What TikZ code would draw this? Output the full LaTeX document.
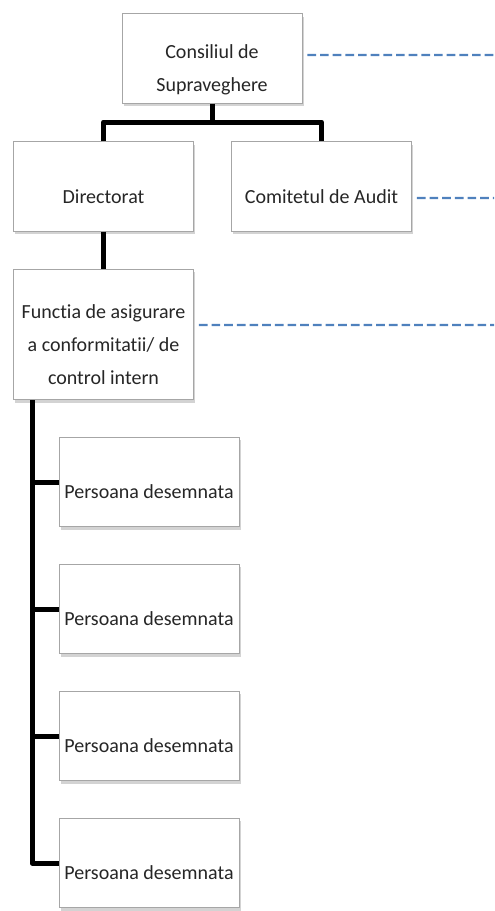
\documentclass[tikz,border=0pt]{standalone}
\usepackage{fontspec}
\setmainfont{Carlito}[Ligatures={NoCommon}]
\usetikzlibrary{shadows}
\definecolor{officeblue}{RGB}{79,129,189}
\newcommand{\boxtext}[1]{\raisebox{-7.5pt}[\height][\depth]{\begin{tabular}{@{}c@{}}#1\end{tabular}}}
\tikzset{
  box/.style={draw=gray!70, fill=white, line width=0.6pt, minimum width=135pt, minimum height=67pt,
    inner sep=1pt, font=\fontsize{15pt}{24.75pt}\selectfont, text=black!85,
    drop shadow={shadow xshift=1.2pt, shadow yshift=-2.2pt, opacity=0.35, fill=gray}},
  conn/.style={line width=3.75pt, line join=round, line cap=butt},
  link/.style={officeblue, line width=1.7pt, dash pattern=on 6.5pt off 3pt}
}
\begin{document}
\begin{tikzpicture}[x=0.75pt,y=-0.75pt]
\useasboundingbox (0,0) rectangle (494,911);
  \coordinate (edge) at (494,0);
  \node[box] (cons) at (212,58.5) {\boxtext{Consiliul de\\Supraveghere}};
  \node[box] (dir) at (103.5,186.5) {\boxtext{Directorat}};
  \node[box] (audit) at (321.5,186.5) {\boxtext{Comitetul de Audit}};
  \node[box, minimum height=98pt] (func) at (103.5,334.5)
    {\boxtext{Functia de asigurare\\a conformitatii/ de\\control intern}};
  \foreach \i/\y in {1/482,2/609,3/736,4/863}
    \node[box] (pers\i) at (149,\y) {\boxtext{Persoana desemnata}};
  % ierarhie
  \coordinate (bar) at (212,122);
  \coordinate (spine) at (32,400);
  \draw[conn] (cons.south) -- (bar);
  \draw[conn] (dir.north) |- (bar) -| (audit.north);
  \draw[conn] (dir.south) -- (func.north);
  \draw[conn] (spine) |- (pers4.west);
  \foreach \i in {1,2,3}
    \draw[conn] (spine |- pers\i.west) -- (pers\i.west);
  % legaturi punctate
  \draw[link] ([shift={(5,-3.5)}]cons.east) -- ([yshift=2.6pt]cons.east -| edge);
  \draw[link] ([shift={(5,11.5)}]audit.east) -- ([yshift=-8.6pt]audit.east -| edge);
  \draw[link] ([shift={(5,-9.5)}]func.east) -- ([yshift=7.1pt]func.east -| edge);
\end{tikzpicture}
\end{document}
